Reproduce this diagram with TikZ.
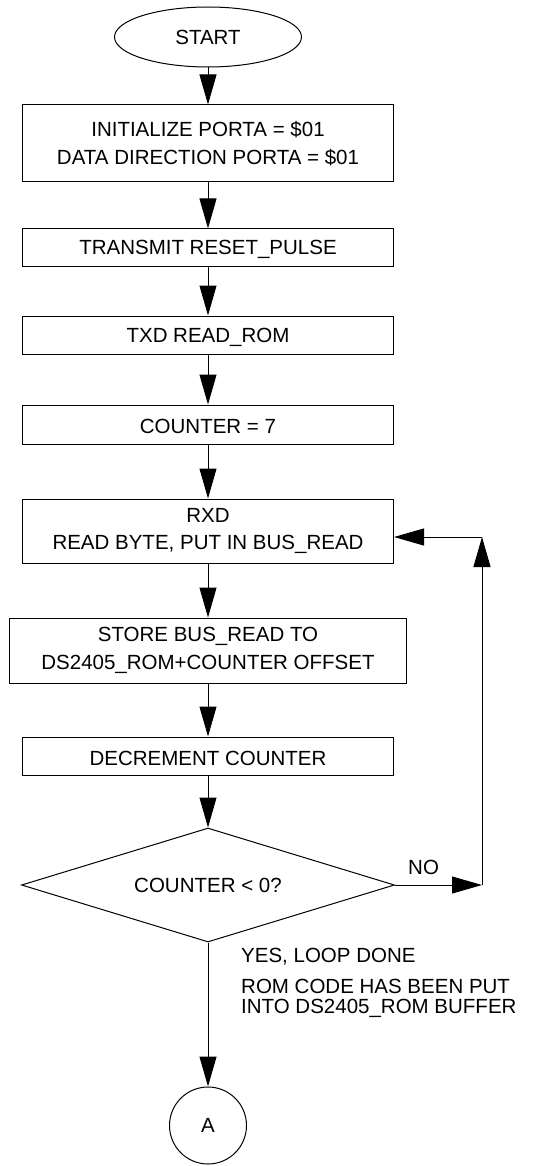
\documentclass[tikz,border=0pt]{standalone}
\usepackage{fontspec}
\setmainfont{Liberation Sans}
\usetikzlibrary{shapes.geometric,arrows.meta}

\tikzset{
  flowline/.style={line width=1pt},
  flowarrow/.style={flowline,-{Triangle[length=30pt,width=17pt]}},
  proc/.style={draw,flowline,rectangle,minimum width=371pt,inner sep=0pt,align=center,execute at begin node={\rule{0pt}{#1}}},
  proc/.default=19pt,
  terminal/.style={draw,flowline,ellipse,minimum width=187pt,minimum height=60pt,inner sep=0pt},
  decision/.style={draw,flowline,diamond,aspect=3.27,minimum width=373pt,minimum height=114pt,inner sep=0pt},
  connector/.style={draw,flowline,circle,minimum size=77pt,inner sep=0pt}
}

\begin{document}
\begin{tikzpicture}[x=1pt,y=1pt,yscale=-1,xscale=1,font=\fontsize{20.5}{27.5}\selectfont]
\useasboundingbox (0,0) rectangle (537,1166);

%Shape: Ellipse
\node[terminal] (start) at (208,37) {START};
%Flowchart: Process
\node[proc=25pt,minimum height=77pt] (init) at (208,143.5) {INITIALIZE PORTA = \$01\\DATA DIRECTION PORTA = \$01};
%Flowchart: Process
\node[proc,minimum height=37pt] (reset) at (208,247.5) {TRANSMIT RESET\_PULSE};
%Flowchart: Process
\node[proc,minimum height=38pt] (txd) at (208,335) {TXD READ\_ROM};
%Flowchart: Process
\node[proc,minimum height=39pt] (count) at (208,424.5) {COUNTER = 7};
%Flowchart: Process
\node[proc=25pt,minimum height=64pt] (rxd) at (208,531) {RXD\\READ BYTE, PUT IN BUS\_READ};
%Flowchart: Process
\node[proc=25pt,minimum width=397pt,minimum height=65pt] (store) at (208,650.5) {STORE BUS\_READ TO\\DS2405\_ROM+COUNTER OFFSET};
%Flowchart: Process
\node[proc,minimum height=38pt] (decr) at (208,756) {DECREMENT COUNTER};
%Flowchart: Decision
\node[decision] (test) at (208,885) {COUNTER < 0?};
%Shape: Circle
\node[connector] (pageA) at (208,1125.5) {A};

%Straight Lines
\draw[flowarrow] (start) -- (init);
\draw[flowarrow] (init) -- (reset);
\draw[flowarrow] (reset) -- (txd);
\draw[flowarrow] (txd) -- (count);
\draw[flowarrow] (count) -- (rxd);
\draw[flowarrow] (rxd) -- (store);
\draw[flowarrow] (store) -- (decr);
\draw[flowarrow] (decr) -- (test);
\draw[flowarrow] (test) -- (pageA);

%Loop back
\coordinate (noturn) at (482,885);
\coordinate (upturn) at (482,537);
\draw[flowarrow] (test.east) -- (noturn);
\draw[flowarrow] (noturn) -- (upturn);
\draw[flowarrow] (upturn) -- (upturn -| rxd.east);

%Text labels
\node[anchor=base west,inner sep=0pt] (nolbl) at (408,874) {NO};
\node[anchor=base west,inner sep=0pt] (yeslbl) at (241,962.7) {YES, LOOP DONE};
\node[anchor=north west,inner sep=0pt,align=left,font=\fontsize{20.5}{20.3}\selectfont] (romlbl) at (241,979) {ROM CODE HAS BEEN PUT\\INTO DS2405\_ROM BUFFER};

\end{tikzpicture}
\end{document}
